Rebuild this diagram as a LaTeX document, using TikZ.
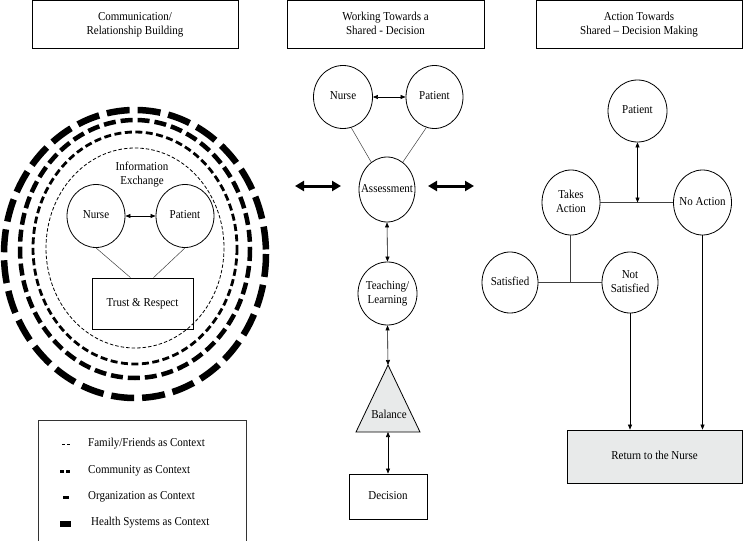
\documentclass[tikz,border=0pt]{standalone}
\usepackage{fontspec}
\usepackage{graphicx}
\setmainfont{Liberation Serif}
\usetikzlibrary{arrows.meta,shapes.geometric}
\definecolor{boxgray}{RGB}{232,234,234}
\newcommand{\tc}[1]{\scalebox{1}[1.1]{\begin{tabular}{@{}c@{}}#1\end{tabular}}}
\begin{document}
\begin{tikzpicture}[x=1pt,y=-1pt,
  every node/.style={font=\fontsize{11}{13.2}\selectfont},
  every label/.style={font=\fontsize{11}{13.2}\selectfont, inner sep=0pt},
  circ/.style={draw, ellipse, line width=0.8pt, minimum width=58pt, minimum height=63pt, inner sep=0pt, label={center:\tc{#1}}},
  hdr/.style={draw, line width=0.8pt, minimum width=206pt, minimum height=48pt, inner sep=0pt},
  rbox/.style={draw, line width=0.8pt, inner sep=0pt},
  link/.style={draw=black!75, line width=0.5pt},
  tipa/.style={-{Triangle[length=5pt,width=4pt]}},
  dbl/.style={line width=0.6pt, {Triangle[length=5pt,width=4pt]}-{Triangle[length=5pt,width=4pt]}},
  big/.style={line width=3pt, {Triangle[length=9pt,width=10pt]}-{Triangle[length=9pt,width=10pt]}},
  healthsys/.style={line width=6.5pt, dash pattern=on 23pt off 8pt},
  organiz/.style={line width=4.5pt, dash pattern=on 12pt off 5pt},
  communit/.style={line width=2.8pt, dash pattern=on 7pt off 3.5pt},
  famctx/.style={line width=0.8pt, dash pattern=on 3.5pt off 2pt}
]
\useasboundingbox (0,0) rectangle (743,540);

% headers
\node[hdr] (h1) at (135,24.5) {\tc{Communication/\\Relationship Building}};
\node[hdr, minimum width=197pt] (h2) at (385.5,24.5) {\tc{Working Towards a\\Shared - Decision}};
\node[hdr] (h3) at (639,24.5) {\tc{Action Towards\\Shared -- Decision Making}};

% context ellipses
\draw[healthsys] (135,254) ellipse [x radius=131, y radius=144];
\draw[organiz] (135,249) ellipse [x radius=115, y radius=129];
\draw[communit] (135,248) ellipse [x radius=102, y radius=116];
\draw[famctx] (135,248) ellipse [x radius=89, y radius=100];

\node (ie) at (142,174.5) {\tc{Information\\Exchange}};
\node[circ={Nurse}] (ln) at (96,216) {};
\node[circ={Patient}] (lp) at (185,216) {};
\draw[dbl] (ln) -- (lp);
\node[rbox, minimum width=101pt, minimum height=51pt] (trust) at (142.5,303.5) {\tc{Trust \& Respect}};
\draw[link] (ln.south) -- ([xshift=-12pt]trust.north);
\draw[link] (lp.south) -- ([xshift=11pt]trust.north);

% legend
\draw[line width=0.8pt, draw=black!80] (38,420) rectangle (246,548);
\draw[line width=0.9pt, dash pattern=on 3pt off 2pt] (62,444) -- (70,444);
\fill (60,469.5) rectangle (64,472.5);
\fill (66,469.5) rectangle (70,472.5);
\fill (63,495.5) rectangle (69,499);
\fill (60,520.5) rectangle (71,527);
\node[anchor=west, inner sep=0pt] (lg1) at (88,444) {\tc{Family/Friends as Context}};
\node[anchor=west, inner sep=0pt] (lg2) at (88,471) {\tc{Community as Context}};
\node[anchor=west, inner sep=0pt] (lg3) at (88,497) {\tc{Organization as Context}};
\node[anchor=west, inner sep=0pt] (lg4) at (91,523) {\tc{Health Systems as Context}};

% middle column
\node[circ={Nurse}, minimum width=59pt] (mn) at (343,97) {};
\node[circ={Patient}, minimum width=57pt] (mp) at (434.5,97) {};
\draw[dbl] (mn) -- (mp);
\node[circ={Assessment}, minimum width=56pt, minimum height=65pt] (ma) at (387,189.5) {};
\draw[link] (mn.-75) -- (ma.120);
\draw[link] (mp.-105) -- (ma.60);
\coordinate (bl1) at (295,186);
\coordinate (bl2) at (341,186);
\coordinate (br1) at (428,186);
\coordinate (br2) at (474,186);
\draw[big] (bl1) -- (bl2);
\draw[big] (br1) -- (br2);
\node[circ={Teaching/\\Learning}, minimum width=59pt] (mt) at (387.5,293.5) {};
\draw[dbl] (ma.south) -- (mt.north);
\coordinate (btop) at (388,365);
\coordinate (bbot) at (388,432);
\filldraw[fill=boxgray, line width=0.8pt, line join=miter] (btop) -- (420,432) -- (356,432) -- cycle;
\node (bal) at (389,416) {\tc{Balance}};
\draw[dbl] (mt.south) -- (btop);
\node[rbox, minimum width=78pt, minimum height=45pt] (dec) at (388,496.5) {\tc{Decision}};
\draw[dbl] (bbot) -- (dec.north);

% right column
\node[circ={Patient}, minimum width=59pt, minimum height=62pt] (rp) at (637.5,111) {};
\node[circ={Takes\\Action}, minimum height=65pt] (rt) at (571,202.5) {};
\node[circ={No Action}, minimum height=65pt] (rn) at (702.5,202.5) {};
\draw[link] (rt.east) -- (rn.west);
\coordinate (j1) at (637.5,202.5);
\draw[dbl] (rp.south) -- (j1);
\node[circ={Satisfied}, minimum width=56pt, minimum height=61pt] (rs) at (510,282.5) {};
\node[circ={Not\\Satisfied}, minimum width=56pt, minimum height=61pt] (rns) at (630,282.5) {};
\draw[link] (rs.east) -- (rns.west);
\coordinate (j2) at (570,282.5);
\draw[link] (rt.south -| j2) -- (j2);
\node[rbox, fill=boxgray, minimum width=175pt, minimum height=53pt] (ret) at (654.5,456.5) {\tc{Return to the Nurse}};
\draw[line width=0.6pt, tipa] (rns.south) -- (rns.south |- ret.north);
\draw[line width=0.6pt, tipa] (rn.south) -- (rn.south |- ret.north);
\end{tikzpicture}
\end{document}
